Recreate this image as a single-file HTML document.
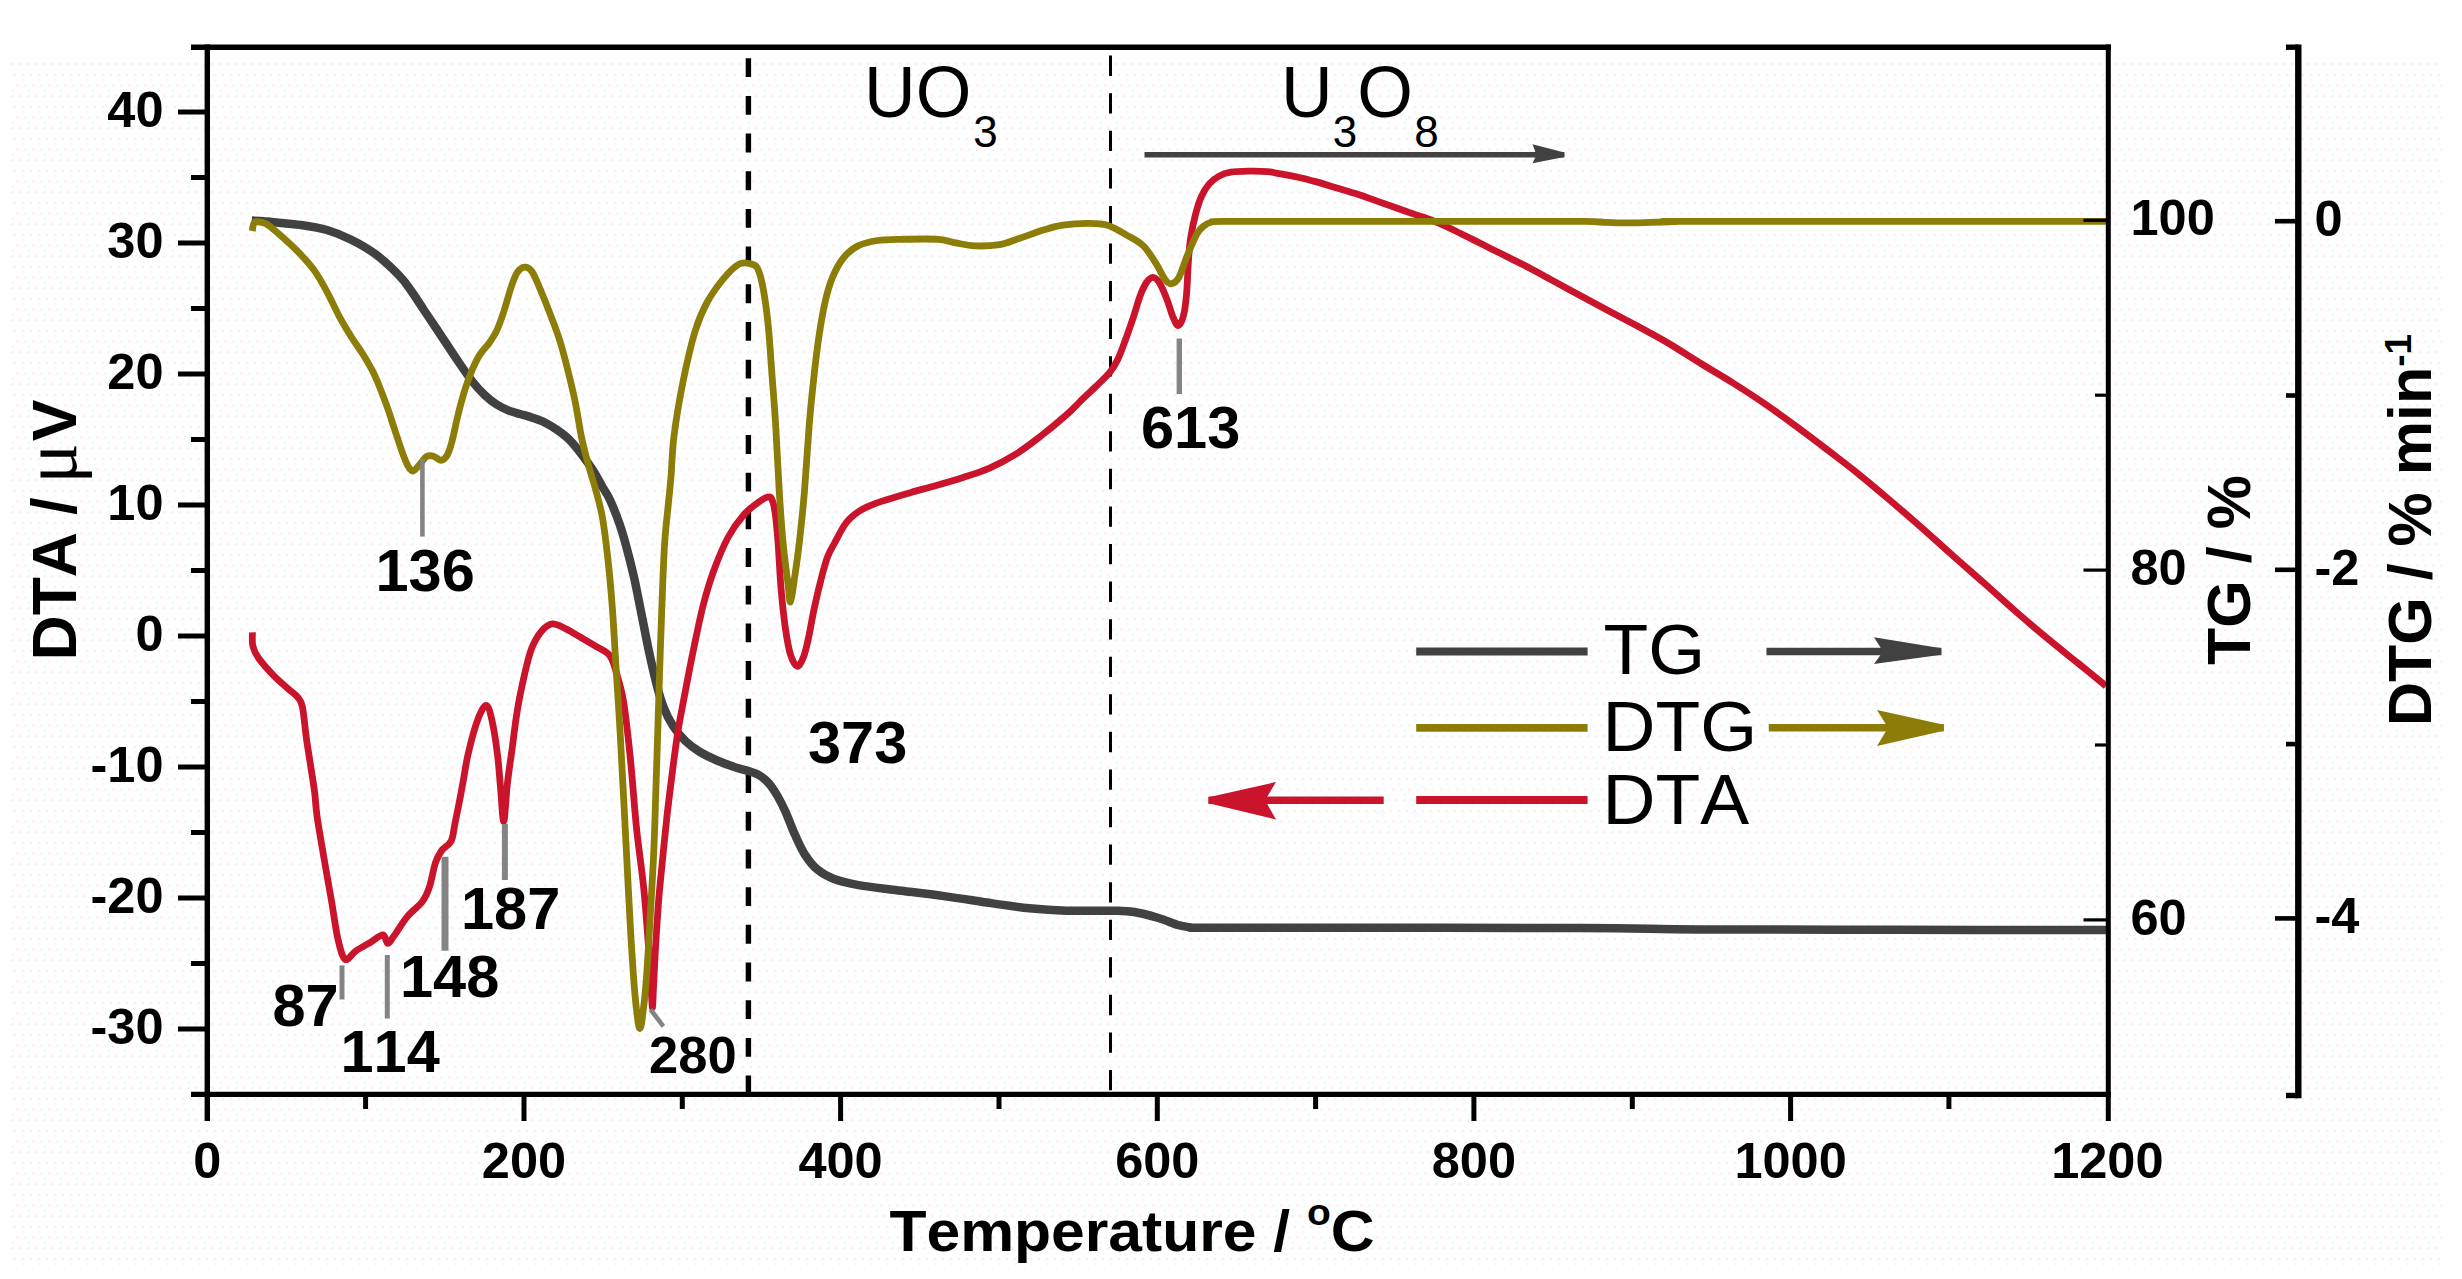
<!DOCTYPE html>
<html lang="en"><head><meta charset="utf-8"><title>TG / DTG / DTA curves</title>
<style>html,body{margin:0;padding:0;background:#fff;}body{width:2462px;height:1279px;overflow:hidden;}svg{display:block;}text{font-family:"Liberation Sans",sans-serif;fill:#000;font-kerning:none;}.b{font-weight:bold;}.tk{font-weight:bold;font-size:50.5px;}.pk{font-weight:bold;font-size:59.5px;}.ax{font-weight:bold;font-size:61px;}.lg{font-size:70px;}.fm{font-size:71.5px;}.sub{font-size:44px;}</style></head><body>
<svg width="2462" height="1279" viewBox="0 0 2462 1279">
<rect x="0" y="0" width="2462" height="1279" fill="#ffffff"/>
<defs><pattern id="dith" x="10" y="62" width="16" height="32" patternUnits="userSpaceOnUse"><g fill="#fdf0f0"><rect x="1" y="1" width="2.7" height="2.7"/><rect x="9" y="1" width="2.7" height="2.7"/><rect x="3.67" y="11.67" width="2.7" height="2.7"/><rect x="11.67" y="11.67" width="2.7" height="2.7"/><rect x="6.33" y="22.33" width="2.7" height="2.7"/><rect x="14.33" y="22.33" width="2.7" height="2.7"/></g><g fill="#ecfeff"><rect x="5" y="6.33" width="2.7" height="2.7"/><rect x="12" y="17" width="2.7" height="2.7"/><rect x="2" y="27.67" width="2.7" height="2.7"/></g></pattern></defs>
<rect x="10" y="62" width="2432" height="1207" fill="url(#dith)"/>
<line x1="748.4" y1="58.2" x2="748.4" y2="1092" stroke="#000" stroke-width="5.4" stroke-dasharray="18.9 18.78"/>
<line x1="1110.5" y1="55.6" x2="1110.5" y2="1092" stroke="#000" stroke-width="3" stroke-dasharray="20.3 17.27"/>
<g fill="none" stroke-linejoin="round" stroke-linecap="butt">
<path d="M251.8,220.6 C253.8,220.7 259.6,220.8 264.0,221.2 C268.4,221.5 272.1,222.0 278.5,222.7 C284.9,223.4 294.6,224.0 302.7,225.2 C310.8,226.4 318.9,227.6 327.0,230.0 C335.1,232.4 343.1,235.7 351.2,239.7 C359.3,243.7 367.4,248.1 375.5,254.2 C383.6,260.3 393.6,269.8 399.7,276.1 C405.8,282.4 407.8,286.2 411.8,291.8 C415.8,297.4 419.8,303.9 423.9,310.0 C427.9,316.1 432.1,322.1 436.1,328.2 C440.2,334.3 444.2,340.3 448.2,346.4 C452.2,352.4 456.3,358.6 460.3,364.5 C464.3,370.4 468.4,376.4 472.4,381.5 C476.4,386.6 480.4,391.0 484.5,394.8 C488.6,398.6 492.6,401.9 496.7,404.5 C500.8,407.1 504.8,409.0 508.8,410.6 C512.8,412.2 516.9,413.0 520.9,414.2 C524.9,415.4 529.0,416.5 533.0,417.9 C537.0,419.3 541.2,420.7 545.2,422.7 C549.2,424.7 553.3,427.2 557.3,430.0 C561.3,432.8 565.4,435.7 569.4,439.7 C573.4,443.7 577.5,448.9 581.5,454.2 C585.5,459.4 590.1,465.7 593.6,471.2 C597.1,476.7 599.8,482.3 602.5,487.0 C605.2,491.7 607.0,493.4 609.8,499.5 C612.6,505.6 616.7,515.8 619.5,523.9 C622.3,532.0 624.4,539.3 626.8,548.3 C629.2,557.2 631.6,566.6 634.1,577.6 C636.6,588.6 639.0,601.9 641.5,614.1 C644.0,626.3 646.4,639.3 648.8,650.7 C651.2,662.1 653.7,673.0 656.1,682.4 C658.5,691.8 660.5,699.5 663.4,706.8 C666.2,714.1 669.5,720.6 673.2,726.3 C676.9,732.0 680.9,736.7 685.4,741.0 C689.9,745.3 694.7,748.8 700.0,752.0 C705.3,755.2 711.0,757.9 717.1,760.5 C723.2,763.1 731.1,766.0 736.6,767.8 C742.1,769.6 746.4,770.4 750.0,771.5 C753.6,772.6 755.5,773.2 758.0,774.5 C760.5,775.8 762.8,777.6 765.0,779.5 C767.2,781.4 768.9,783.2 771.0,786.0 C773.1,788.8 775.1,791.8 777.5,796.0 C779.9,800.2 782.5,805.0 785.4,811.5 C788.3,818.0 791.9,827.9 795.1,835.1 C798.4,842.3 801.2,848.9 804.9,854.6 C808.6,860.3 812.2,865.2 817.1,869.3 C822.0,873.4 827.2,876.4 834.1,879.0 C841.0,881.6 848.3,883.3 858.5,885.1 C868.7,886.9 880.9,888.2 895.1,890.0 C909.3,891.8 927.6,893.9 943.9,896.1 C960.2,898.3 978.5,901.4 992.7,903.4 C1006.9,905.4 1017.1,907.1 1029.3,908.3 C1041.5,909.5 1051.7,910.3 1065.9,910.7 C1080.1,911.1 1103.2,910.5 1114.6,910.7 C1126.0,910.9 1126.8,910.8 1134.1,912.0 C1141.4,913.2 1151.2,915.8 1158.5,918.0 C1165.8,920.2 1172.8,923.5 1178.0,925.0 C1183.2,926.5 1186.3,926.8 1190.0,927.3 C1193.7,927.8 1181.7,927.7 1200.0,927.8 C1218.3,927.9 1236.7,927.8 1300.0,927.8 C1363.3,927.8 1513.3,927.7 1580.0,928.0 C1646.7,928.3 1646.7,929.1 1700.0,929.4 C1753.3,929.7 1832.3,929.7 1900.0,929.8 C1967.7,929.9 2071.7,930.0 2106.0,930.0" stroke="#414141" stroke-width="8.5"/>
<path d="M252.4,632.4 C252.5,634.6 251.8,641.6 252.8,645.9 C253.8,650.2 255.1,653.1 258.5,658.0 C261.9,662.9 268.3,670.0 273.2,675.1 C278.1,680.2 283.7,684.8 287.8,688.5 C291.9,692.2 295.2,694.1 297.6,697.1 C300.0,700.1 301.0,700.3 302.4,706.8 C303.8,713.3 304.9,727.1 306.1,736.1 C307.3,745.1 308.4,751.2 309.8,760.5 C311.2,769.8 313.4,782.6 314.6,792.0 C315.8,801.4 315.5,805.2 317.1,816.6 C318.7,828.0 322.0,846.3 324.4,860.5 C326.8,874.7 329.5,889.0 331.7,902.0 C333.9,915.0 335.6,929.0 337.8,938.5 C340.0,948.0 342.1,957.3 345.1,959.3 C348.2,961.3 351.8,953.6 356.1,950.7 C360.4,947.9 366.2,944.8 370.7,942.2 C375.2,939.6 380.0,934.7 382.9,934.9 C385.8,935.1 386.0,943.2 387.8,943.4 C389.6,943.6 390.6,940.6 393.9,936.1 C397.1,931.6 402.6,922.3 407.3,916.6 C412.0,910.9 418.3,906.9 422.0,902.0 C425.7,897.1 427.1,893.8 429.3,887.3 C431.5,880.8 433.4,869.0 435.4,862.9 C437.4,856.8 438.9,854.4 441.5,850.7 C444.1,847.1 449.0,845.5 451.2,841.0 C453.4,836.5 453.5,830.8 454.9,823.9 C456.3,817.0 458.4,806.8 459.8,799.5 C461.2,792.2 462.0,787.7 463.4,780.0 C464.8,772.3 465.9,763.4 468.3,753.2 C470.7,743.0 474.9,726.9 478.0,719.0 C481.1,711.1 484.2,704.8 486.6,705.6 C489.1,706.4 490.9,715.6 492.7,723.9 C494.5,732.2 496.3,745.0 497.6,755.6 C498.9,766.2 499.5,776.3 500.5,787.3 C501.5,798.3 502.6,821.5 503.7,821.5 C504.8,821.5 506.0,796.7 507.0,787.3 C508.0,777.9 508.9,771.5 509.8,765.0 C510.7,758.5 511.0,757.2 512.2,748.3 C513.4,739.4 515.1,723.9 517.1,711.7 C519.1,699.5 522.0,685.7 524.4,675.1 C526.8,664.5 528.9,655.6 531.7,648.3 C534.6,641.0 538.0,635.3 541.5,631.2 C545.0,627.1 548.3,624.3 552.4,623.9 C556.5,623.5 561.2,626.6 565.9,628.8 C570.6,631.0 575.6,634.4 580.5,637.3 C585.4,640.1 590.2,642.8 595.1,645.9 C600.0,649.0 606.1,650.7 609.8,655.6 C613.5,660.5 614.9,667.8 617.1,675.1 C619.3,682.4 621.4,689.3 623.2,699.5 C625.0,709.7 626.6,723.9 628.0,736.1 C629.4,748.3 630.3,757.2 631.7,772.7 C633.1,788.2 634.6,809.3 636.6,828.8 C638.6,848.3 641.9,869.5 643.9,889.8 C645.9,910.1 647.5,932.3 648.8,950.7 C650.1,969.1 651.2,990.8 651.8,1000.0 C652.4,1009.2 652.3,1008.5 652.6,1006.0 C652.9,1003.5 653.1,994.7 653.6,985.0 C654.1,975.3 654.7,961.3 655.5,948.0 C656.3,934.7 657.3,918.3 658.3,905.0 C659.3,891.7 660.2,882.8 661.7,868.0 C663.2,853.2 665.2,832.2 667.0,816.0 C668.8,799.8 670.7,785.2 672.5,771.0 C674.3,756.8 675.9,744.0 678.0,731.0 C680.1,718.0 682.5,706.2 685.0,693.0 C687.5,679.8 690.0,666.5 693.0,652.0 C696.0,637.5 699.5,619.7 703.0,606.0 C706.5,592.3 709.8,581.4 714.0,570.0 C718.2,558.6 723.0,546.8 728.0,537.5 C733.0,528.2 738.9,520.4 744.0,514.5 C749.1,508.6 754.7,505.2 758.5,502.3 C762.3,499.4 764.8,497.9 767.0,497.3 C769.2,496.7 770.2,496.1 771.5,498.5 C772.8,500.9 773.9,504.8 775.0,512.0 C776.1,519.2 777.0,529.3 778.0,542.0 C779.0,554.7 779.8,573.8 781.0,588.0 C782.2,602.2 783.7,616.0 785.2,627.0 C786.8,638.0 788.3,647.5 790.3,654.0 C792.3,660.5 795.0,665.8 797.2,666.3 C799.4,666.8 801.6,661.7 803.5,657.0 C805.4,652.3 806.7,646.2 808.5,638.0 C810.3,629.8 812.1,618.1 814.3,608.0 C816.5,597.9 819.3,586.1 821.5,577.6 C823.7,569.1 825.4,562.7 827.5,557.0 C829.6,551.3 831.2,549.2 834.3,543.5 C837.4,537.8 841.9,528.4 846.0,523.0 C850.1,517.6 854.7,514.3 859.0,511.3 C863.3,508.3 867.7,506.7 872.0,504.8 C876.3,502.9 878.5,502.3 885.0,500.2 C891.5,498.1 902.3,494.9 911.0,492.4 C919.7,489.9 928.3,487.8 937.0,485.3 C945.7,482.8 954.3,480.3 963.0,477.5 C971.7,474.7 980.3,472.2 989.0,468.4 C997.7,464.6 1006.3,460.1 1015.0,454.7 C1023.7,449.3 1032.3,442.6 1041.0,435.9 C1049.7,429.2 1060.5,420.1 1067.0,414.4 C1073.5,408.7 1075.4,406.1 1080.0,401.6 C1084.6,397.1 1089.9,392.3 1094.8,387.5 C1099.7,382.7 1105.7,377.4 1109.6,372.7 C1113.5,367.9 1115.4,364.4 1118.0,359.0 C1120.6,353.6 1122.9,346.7 1125.4,340.0 C1127.9,333.3 1130.3,326.3 1132.8,318.9 C1135.3,311.5 1137.9,301.7 1140.2,295.6 C1142.5,289.5 1144.4,285.6 1146.5,282.5 C1148.6,279.4 1150.7,277.3 1152.8,277.3 C1154.9,277.3 1156.9,278.8 1159.2,282.3 C1161.5,285.8 1164.2,292.4 1166.5,298.2 C1168.8,303.9 1171.0,312.2 1172.9,316.8 C1174.9,321.4 1176.5,325.7 1178.2,325.6 C1180.0,325.5 1182.0,321.4 1183.4,316.0 C1184.8,310.6 1185.8,302.9 1186.6,293.5 C1187.4,284.1 1187.8,269.1 1188.5,259.8 C1189.2,250.5 1189.5,245.1 1190.7,237.5 C1191.9,229.9 1193.8,220.9 1195.6,214.1 C1197.4,207.3 1199.1,201.5 1201.4,196.5 C1203.7,191.5 1206.3,187.3 1209.2,183.9 C1212.1,180.5 1215.4,178.1 1219.0,176.1 C1222.6,174.1 1225.8,173.0 1230.7,172.2 C1235.6,171.4 1242.0,171.3 1248.2,171.2 C1254.4,171.1 1262.8,171.2 1267.7,171.6 C1272.6,171.9 1272.6,172.4 1277.5,173.3 C1282.4,174.2 1290.5,175.6 1297.0,177.0 C1303.5,178.4 1310.0,180.1 1316.5,181.9 C1323.0,183.7 1329.5,185.9 1336.0,187.8 C1342.5,189.8 1349.0,191.5 1355.5,193.6 C1362.0,195.7 1368.5,198.1 1375.0,200.4 C1381.5,202.7 1388.0,205.0 1394.5,207.3 C1401.0,209.6 1407.5,211.8 1414.0,214.1 C1420.5,216.4 1427.0,218.3 1433.5,220.9 C1440.0,223.5 1446.5,226.6 1453.0,229.7 C1459.5,232.8 1466.0,236.2 1472.5,239.4 C1479.0,242.7 1485.5,245.9 1492.0,249.2 C1498.5,252.4 1504.9,255.6 1511.4,258.9 C1517.9,262.1 1524.4,265.3 1530.9,268.7 C1537.4,272.1 1543.9,275.8 1550.4,279.4 C1556.9,283.0 1563.4,286.6 1569.9,290.1 C1576.4,293.6 1582.9,297.1 1589.4,300.6 C1595.9,304.1 1602.4,307.6 1608.9,311.0 C1615.4,314.4 1621.9,317.8 1628.4,321.2 C1634.9,324.6 1640.8,327.7 1647.9,331.7 C1655.1,335.7 1662.2,339.5 1671.3,345.0 C1680.4,350.5 1692.1,358.1 1702.5,364.5 C1712.9,370.9 1723.4,376.9 1733.8,383.5 C1744.2,390.1 1754.7,396.8 1765.1,404.0 C1775.5,411.2 1786.0,418.8 1796.4,426.5 C1806.8,434.2 1817.2,442.0 1827.6,450.0 C1838.0,458.0 1848.5,465.9 1858.9,474.3 C1869.3,482.7 1879.8,491.6 1890.2,500.5 C1900.6,509.4 1911.0,518.3 1921.4,527.5 C1931.8,536.7 1942.3,546.2 1952.7,555.5 C1963.1,564.8 1973.6,573.8 1984.0,583.0 C1994.4,592.2 2004.8,601.9 2015.2,611.0 C2025.6,620.1 2036.1,629.0 2046.5,637.7 C2056.9,646.4 2067.9,655.0 2077.8,663.0 C2087.7,671.0 2101.3,682.2 2106.0,686.0" stroke="#c9142c" stroke-width="6.8"/>
<path d="M252.3,231.0 C252.5,230.0 252.7,226.6 253.3,225.0 C253.9,223.4 253.8,221.8 256.0,221.6 C258.2,221.4 262.6,221.9 266.4,223.9 C270.1,225.9 274.5,230.2 278.5,233.6 C282.5,237.0 286.6,240.7 290.6,244.5 C294.6,248.3 298.7,252.2 302.7,256.7 C306.7,261.1 310.8,265.3 314.8,271.2 C318.9,277.1 322.9,284.3 327.0,291.8 C331.1,299.3 335.1,308.6 339.1,316.1 C343.1,323.6 347.2,330.2 351.2,336.7 C355.2,343.1 359.7,348.9 363.3,354.8 C366.9,360.7 370.2,366.1 373.0,371.8 C375.8,377.5 377.9,382.7 380.3,388.8 C382.7,394.9 385.2,401.3 387.6,408.2 C390.0,415.1 392.4,422.7 394.8,430.0 C397.2,437.3 399.9,445.7 402.1,451.8 C404.3,457.9 406.4,463.2 408.2,466.4 C410.0,469.6 411.2,471.2 413.0,471.0 C414.8,470.8 416.9,467.6 419.1,465.2 C421.3,462.8 424.0,458.2 426.4,456.7 C428.8,455.2 431.2,455.6 433.6,456.2 C436.0,456.8 438.7,460.4 440.9,460.3 C443.1,460.2 445.2,458.5 447.0,455.5 C448.8,452.5 450.0,448.8 451.8,442.1 C453.6,435.4 455.7,424.4 457.9,415.5 C460.1,406.6 462.8,396.5 465.2,388.8 C467.6,381.1 470.0,375.1 472.4,369.4 C474.8,363.7 476.9,359.2 479.7,354.8 C482.5,350.4 486.6,346.7 489.4,342.7 C492.2,338.7 494.3,335.9 496.7,330.6 C499.1,325.4 501.5,318.5 503.9,311.2 C506.3,303.9 509.0,293.5 511.2,287.0 C513.4,280.5 515.1,275.7 517.3,272.4 C519.5,269.1 522.1,267.3 524.5,267.1 C526.9,266.9 529.2,267.5 531.8,271.2 C534.4,274.9 537.3,282.3 540.3,289.4 C543.3,296.5 546.8,305.1 550.0,313.6 C553.2,322.1 556.7,330.6 559.7,340.3 C562.7,350.0 565.6,361.3 568.2,371.8 C570.8,382.3 573.3,392.4 575.5,403.3 C577.7,414.2 579.3,426.8 581.5,437.3 C583.7,447.8 586.3,457.3 588.8,466.4 C591.3,475.5 594.0,483.4 596.3,492.0 C598.6,500.6 600.5,506.7 602.5,518.0 C604.5,529.3 606.3,544.7 608.0,560.0 C609.7,575.3 611.1,590.8 612.5,610.0 C613.9,629.2 615.2,655.0 616.5,675.0 C617.8,695.0 618.9,710.8 620.0,730.0 C621.1,749.2 622.1,769.5 623.2,790.0 C624.3,810.5 625.3,830.3 626.5,853.0 C627.7,875.7 629.0,903.7 630.3,926.0 C631.6,948.3 633.1,971.7 634.3,987.0 C635.5,1002.3 636.6,1011.1 637.5,1018.0 C638.4,1024.9 639.0,1028.5 639.8,1028.5 C640.6,1028.5 641.2,1026.1 642.3,1018.0 C643.4,1009.9 645.0,997.2 646.3,980.0 C647.6,962.8 649.1,936.1 650.3,915.0 C651.5,893.9 652.7,875.2 653.7,853.2 C654.7,831.2 655.4,804.5 656.1,783.0 C656.8,761.5 657.3,745.9 658.0,723.9 C658.7,701.9 659.5,673.1 660.3,650.7 C661.0,628.4 661.8,608.1 662.5,589.8 C663.2,571.5 663.8,555.2 664.8,541.0 C665.8,526.8 667.3,514.9 668.3,504.4 C669.3,493.9 669.9,489.4 670.9,478.0 C671.9,466.6 672.0,452.0 674.0,436.1 C676.0,420.2 679.4,399.9 682.9,382.4 C686.4,364.9 691.0,344.6 695.1,331.2 C699.2,317.8 702.4,310.9 707.3,302.0 C712.2,293.1 719.1,283.9 724.4,277.6 C729.7,271.3 734.9,266.5 739.0,264.1 C743.1,261.8 745.8,262.9 748.8,263.5 C751.8,264.1 754.9,263.4 757.3,267.8 C759.7,272.2 761.6,280.1 763.4,289.8 C765.2,299.6 766.9,312.1 768.3,326.3 C769.7,340.5 770.8,358.8 772.0,375.1 C773.2,391.4 774.4,404.4 775.6,423.9 C776.8,443.4 778.1,472.5 779.3,492.0 C780.5,511.5 781.5,525.9 782.9,541.0 C784.3,556.1 786.5,572.2 787.8,582.4 C789.1,592.6 789.4,602.8 790.5,602.0 C791.6,601.2 793.1,587.8 794.6,577.6 C796.1,567.4 797.9,555.3 799.5,541.0 C801.1,526.7 802.8,511.5 804.4,492.0 C806.0,472.5 807.7,443.4 809.3,423.9 C810.9,404.4 812.5,389.7 814.1,375.1 C815.7,360.5 817.2,348.3 819.0,336.1 C820.8,323.9 822.9,311.8 825.1,302.0 C827.3,292.2 829.4,284.9 832.4,277.6 C835.4,270.3 839.1,263.3 843.4,258.0 C847.7,252.7 852.3,248.8 858.0,245.9 C863.7,243.0 870.3,241.6 877.6,240.5 C884.9,239.4 891.9,239.5 902.0,239.3 C912.1,239.1 929.6,238.7 938.5,239.3 C947.4,239.9 949.5,241.8 955.6,242.9 C961.7,244.0 967.8,245.6 975.1,245.9 C982.4,246.2 992.2,245.8 999.5,244.6 C1006.8,243.4 1011.7,240.9 1019.0,238.5 C1026.3,236.1 1036.1,232.2 1043.4,230.0 C1050.7,227.8 1055.6,226.2 1062.9,225.1 C1070.2,224.0 1080.0,223.4 1087.3,223.4 C1094.6,223.4 1100.3,223.2 1106.8,225.1 C1113.3,227.0 1120.2,231.4 1126.3,234.9 C1132.4,238.4 1138.5,241.2 1143.4,245.9 C1148.3,250.6 1151.9,257.2 1155.6,262.9 C1159.3,268.6 1162.8,276.5 1165.4,280.0 C1168.1,283.5 1169.3,284.1 1171.5,283.7 C1173.7,283.3 1176.2,282.3 1178.8,277.6 C1181.4,272.9 1184.2,262.9 1187.3,255.6 C1190.3,248.3 1194.3,238.7 1197.1,233.7 C1199.9,228.7 1201.7,227.7 1204.0,225.8 C1206.3,223.9 1208.2,223.0 1211.0,222.3 C1213.8,221.6 1206.2,221.6 1221.0,221.4 C1235.8,221.2 1253.5,221.4 1300.0,221.4 C1346.5,221.4 1452.5,221.4 1500.0,221.4 C1547.5,221.4 1567.5,221.2 1585.0,221.4 C1602.5,221.6 1598.3,222.1 1605.0,222.3 C1611.7,222.6 1617.5,222.9 1625.0,222.9 C1632.5,222.9 1641.7,222.6 1650.0,222.4 C1658.3,222.2 1666.7,221.8 1675.0,221.6 C1683.3,221.4 1628.2,221.4 1700.0,221.4 C1771.8,221.4 2038.3,221.4 2106.0,221.4" stroke="#8c7d08" stroke-width="6.8"/>
</g>
<g stroke="#000" fill="none" stroke-linecap="butt">
<line x1="191" y1="47.2" x2="2110.9" y2="47.2" stroke-width="5.4"/>
<line x1="207.3" y1="44.5" x2="207.3" y2="1121" stroke-width="5.4"/>
<line x1="191" y1="1094.4" x2="2110.9" y2="1094.4" stroke-width="5.4"/>
<line x1="2108.3" y1="44.5" x2="2108.3" y2="1121" stroke-width="5"/>
<line x1="2298.3" y1="44.5" x2="2298.3" y2="1098.2" stroke-width="6.4"/>
<line x1="2286" y1="47.2" x2="2298.3" y2="47.2" stroke-width="5.4"/>
<line x1="2286" y1="1095.5" x2="2298.3" y2="1095.5" stroke-width="5.4"/>
<line x1="178" y1="1029.0" x2="207" y2="1029.0" stroke-width="5"/>
<line x1="191" y1="963.5" x2="207" y2="963.5" stroke-width="5"/>
<line x1="178" y1="898.0" x2="207" y2="898.0" stroke-width="5"/>
<line x1="191" y1="832.5" x2="207" y2="832.5" stroke-width="5"/>
<line x1="178" y1="767.0" x2="207" y2="767.0" stroke-width="5"/>
<line x1="191" y1="701.5" x2="207" y2="701.5" stroke-width="5"/>
<line x1="178" y1="636.0" x2="207" y2="636.0" stroke-width="5"/>
<line x1="191" y1="570.5" x2="207" y2="570.5" stroke-width="5"/>
<line x1="178" y1="505.0" x2="207" y2="505.0" stroke-width="5"/>
<line x1="191" y1="439.5" x2="207" y2="439.5" stroke-width="5"/>
<line x1="178" y1="374.0" x2="207" y2="374.0" stroke-width="5"/>
<line x1="191" y1="308.5" x2="207" y2="308.5" stroke-width="5"/>
<line x1="178" y1="243.0" x2="207" y2="243.0" stroke-width="5"/>
<line x1="191" y1="177.5" x2="207" y2="177.5" stroke-width="5"/>
<line x1="178" y1="112.0" x2="207" y2="112.0" stroke-width="5"/>
<line x1="365.6" y1="1094" x2="365.6" y2="1109" stroke-width="5"/>
<line x1="524.0" y1="1094" x2="524.0" y2="1121" stroke-width="5"/>
<line x1="682.3" y1="1094" x2="682.3" y2="1109" stroke-width="5"/>
<line x1="840.6" y1="1094" x2="840.6" y2="1121" stroke-width="5"/>
<line x1="999.0" y1="1094" x2="999.0" y2="1109" stroke-width="5"/>
<line x1="1157.3" y1="1094" x2="1157.3" y2="1121" stroke-width="5"/>
<line x1="1315.6" y1="1094" x2="1315.6" y2="1109" stroke-width="5"/>
<line x1="1473.9" y1="1094" x2="1473.9" y2="1121" stroke-width="5"/>
<line x1="1632.3" y1="1094" x2="1632.3" y2="1109" stroke-width="5"/>
<line x1="1790.6" y1="1094" x2="1790.6" y2="1121" stroke-width="5"/>
<line x1="1948.9" y1="1094" x2="1948.9" y2="1109" stroke-width="5"/>
<line x1="2083.5" y1="220.3" x2="2107" y2="220.3" stroke-width="3.2"/>
<line x1="2095" y1="395.2" x2="2107" y2="395.2" stroke-width="3.2"/>
<line x1="2083.5" y1="570.1" x2="2107" y2="570.1" stroke-width="3.2"/>
<line x1="2095" y1="745.0" x2="2107" y2="745.0" stroke-width="3.2"/>
<line x1="2083.5" y1="919.9" x2="2107" y2="919.9" stroke-width="3.2"/>
<line x1="2275" y1="221.2" x2="2297" y2="221.2" stroke-width="4.6"/>
<line x1="2286" y1="395.5" x2="2297" y2="395.5" stroke-width="4.6"/>
<line x1="2275" y1="569.8" x2="2297" y2="569.8" stroke-width="4.6"/>
<line x1="2286" y1="744.1" x2="2297" y2="744.1" stroke-width="4.6"/>
<line x1="2275" y1="918.4" x2="2297" y2="918.4" stroke-width="4.6"/>
</g>
<text class="tk" x="163.5" y="1044.3" text-anchor="end">-30</text>
<text class="tk" x="163.5" y="913.3" text-anchor="end">-20</text>
<text class="tk" x="163.5" y="782.3" text-anchor="end">-10</text>
<text class="tk" x="163.5" y="651.3" text-anchor="end">0</text>
<text class="tk" x="163.5" y="520.3" text-anchor="end">10</text>
<text class="tk" x="163.5" y="389.3" text-anchor="end">20</text>
<text class="tk" x="163.5" y="258.3" text-anchor="end">30</text>
<text class="tk" x="163.5" y="127.3" text-anchor="end">40</text>
<text class="tk" x="207.3" y="1177.6" text-anchor="middle">0</text>
<text class="tk" x="524.0" y="1177.6" text-anchor="middle">200</text>
<text class="tk" x="840.6" y="1177.6" text-anchor="middle">400</text>
<text class="tk" x="1157.3" y="1177.6" text-anchor="middle">600</text>
<text class="tk" x="1473.9" y="1177.6" text-anchor="middle">800</text>
<text class="tk" x="1790.6" y="1177.6" text-anchor="middle">1000</text>
<text class="tk" x="2107.3" y="1177.6" text-anchor="middle">1200</text>
<text class="tk" x="2130.5" y="235.3">100</text>
<text class="tk" x="2130.5" y="585.1">80</text>
<text class="tk" x="2130.5" y="934.9">60</text>
<text class="tk" x="2314.5" y="236.2">0</text>
<text class="tk" x="2314.5" y="584.8">-2</text>
<text class="tk" x="2314.5" y="933.4">-4</text>
<text class="ax" transform="translate(76.3,660.5) rotate(-90)" style="font-size:62.5px;font-kerning:none;"><tspan x="0" y="0">DTA / </tspan><tspan x="176.8" style="font-size:76px;font-family:'Liberation Serif','DejaVu Serif',serif;font-weight:normal;">μ</tspan><tspan x="219.2">V</tspan></text>
<text class="ax" transform="translate(1132,1250.6) scale(1.054,1)" text-anchor="middle" style="font-size:57.5px;font-kerning:none;">Temperature / <tspan font-size="37" dy="-25.5">o</tspan><tspan dy="25.5">C</tspan></text>
<text class="ax" x="0" y="0" transform="translate(2250,570) rotate(-90)" text-anchor="middle">TG / %</text>
<text class="ax" x="0" y="0" transform="translate(2430.5,530) rotate(-90)" text-anchor="middle">DTG / % min<tspan font-size="37" dy="-20">-1</tspan></text>
<text class="fm" x="864" y="117.3">UO<tspan class="sub" dx="2" dy="29.7">3</tspan></text>
<text class="fm" x="1281" y="117.3">U<tspan class="sub" dy="29.7">3</tspan><tspan dy="-29.7">O</tspan><tspan class="sub" dx="1.5" dy="29.7">8</tspan></text>
<line x1="1144.5" y1="154.8" x2="1564.3" y2="154.8" stroke="#414141" stroke-width="5.6"/>
<path d="M1564.3,152.6 L1532.5,144.3 L1536.5,154.8 L1532.5,163.3 L1564.3,157 Z" fill="#414141"/>
<g stroke="#848484" fill="none">
<line x1="422.4" y1="459" x2="422.4" y2="536.6" stroke-width="4.6"/>
<line x1="342" y1="965.4" x2="342" y2="999.5" stroke-width="5"/>
<line x1="387.3" y1="955" x2="387.3" y2="1018.5" stroke-width="5"/>
<line x1="445" y1="856.8" x2="445" y2="950.7" stroke-width="7"/>
<line x1="504.9" y1="824" x2="504.9" y2="880" stroke-width="6"/>
<line x1="650.5" y1="1009.5" x2="663.4" y2="1026.3" stroke-width="4.6"/>
<line x1="1179.3" y1="338.5" x2="1179.3" y2="394.1" stroke-width="5.4"/>
</g>
<text class="pk" x="375.5" y="591.0">136</text>
<text class="pk" x="272.5" y="1026.3">87</text>
<text class="pk" x="340.5" y="1071.5">114</text>
<text class="pk" x="400.0" y="997.0">148</text>
<text class="pk" x="461.0" y="928.8">187</text>
<text class="pk" x="649.0" y="1072.7" style="font-size:52.5px">280</text>
<text class="pk" x="808.0" y="763.0">373</text>
<text class="pk" x="1141.0" y="447.8">613</text>
<line x1="1416.2" y1="651.5" x2="1587.6" y2="651.5" stroke="#414141" stroke-width="7.8"/>
<line x1="1416.2" y1="727.8" x2="1587.6" y2="727.8" stroke="#8c7d08" stroke-width="7.8"/>
<line x1="1416.2" y1="800.0" x2="1587.6" y2="800.0" stroke="#c9142c" stroke-width="7.8"/>
<text class="lg" transform="translate(1603.5,674.2) scale(1.047,1)" style="font-kerning:none;">TG</text>
<text class="lg" transform="translate(1602.5,751.2) scale(1.047,1)" style="font-kerning:none;">DTG</text>
<text class="lg" transform="translate(1602.5,824.4) scale(1.047,1)" style="font-kerning:none;">DTA</text>
<line x1="1766.5" y1="651.5" x2="1941.3" y2="651.5" stroke="#414141" stroke-width="7.6"/>
<path d="M1941.3,648.3 L1874,637.3 L1883,651.5 L1874,664 L1941.3,654.7 Z" fill="#414141"/>
<line x1="1768.8" y1="727.8" x2="1943.8" y2="727.8" stroke="#8c7d08" stroke-width="7.4"/>
<path d="M1943.8,724.8 L1877,710 L1888,727.8 L1877,746 L1943.8,730.8 Z" fill="#8c7d08"/>
<line x1="1383.7" y1="800.3" x2="1208.5" y2="800.3" stroke="#c9142c" stroke-width="7.4"/>
<path d="M1208.5,797.3 L1276,782 L1265,800.3 L1276,819.5 L1208.5,803.3 Z" fill="#c9142c"/>
</svg></body></html>
